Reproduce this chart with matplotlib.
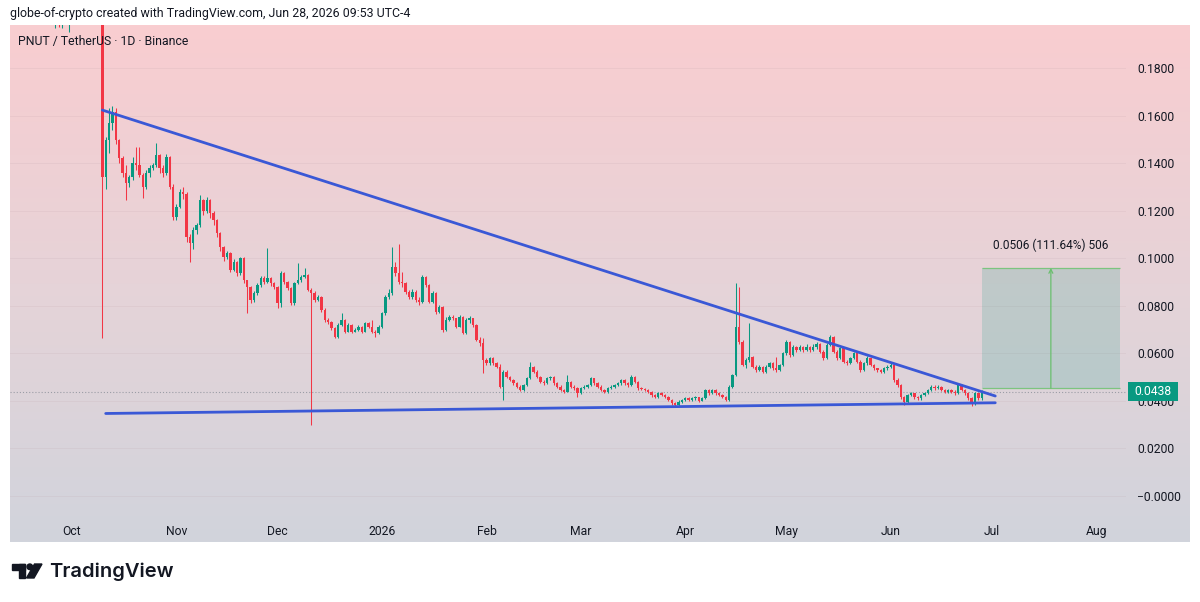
import numpy as np
import matplotlib
matplotlib.use("Agg")
import matplotlib.pyplot as plt
import matplotlib.dates as mdates
from matplotlib.patches import Rectangle, Circle, Polygon
from matplotlib.colors import LinearSegmentedColormap

plt.rcParams['font.family'] = ['Roboto', 'DejaVu Sans']

# ---------------- data (daily OHLC, prices in units of 0.0001 USDT) ----------------
first_date = '2025-09-13'
first_open = 2150
closes = [
    # Sep 13 - Sep 22
    2180, 2210, 2150, 2120, 2160, 2230, 2200, 2140, 2090, 2060,
    # Sep 23 - Oct 2
    2110, 2080, 2040, 2090, 2030, 2050, 2010, 2070, 2040, 2100,
    # Oct 3 - Oct 9
    2150, 2180, 2120, 2160, 2200, 2130, 2080,
    # Oct 10
    1343,
    1497, 1567, 1616, 1497, 1420, 1357, 1315, 1340, 1400, 1390,
    1350, 1301, 1357, 1378, 1392, 1434, 1378, 1360, 1427, 1301,
    1174, 1217, 1280, 1270, 1090, 1063, 1119, 1140, 1245, 1200,
    1245, 1190, 1161, 1105, 1048, 1006, 1020, 950, 985, 936,
    1000, 908, 880, 824, 852, 887, 915, 900, 915, 894,
    880, 810, 936, 900, 875, 810, 896, 908, 921, 930, 866, 854,
    824, 838, 782, 740, 730, 705, 670, 719, 740, 691,
    719, 691, 698, 712, 691, 726, 712, 691, 684, 712, 768, 838, 852,
    964, 936, 901, 894, 859, 838, 859, 824, 817, 922, 887, 817, 852, 775, 796,
    698, 740, 754, 747, 712, 754, 684, 740, 747, 719, 656, 642, 572, 558, 579, 558, 544,
    460, 523, 502, 488, 474, 460, 446, 467, 495, 544, 523, 502, 481, 474, 495, 500, 474, 460, 446, 439,
    481, 460, 453, 432, 453, 460, 467, 495, 474, 460, 446, 439, 453, 460, 467, 474, 488, 474, 467, 502,
    481, 453, 450, 446, 439, 425, 418, 432, 425, 418, 404, 390, 383, 397, 404, 411, 404, 411, 415, 401, 411,
    446, 432, 446, 432, 425, 418, 404, 460, 509, 712,
    649, 551, 572, 586, 544, 530, 544, 523, 544, 558, 540, 530, 551, 600, 649, 593, 628, 614, 628, 614, 628, 614, 628, 640,
    607, 579, 635, 670, 607, 579, 621, 565, 560, 579, 600, 565, 530, 558, 579, 551, 537, 530, 523, 537, 544, 551, 488, 467, 418,
    397, 425, 432, 418, 411, 425, 432, 446, 460, 453, 460, 446, 439, 446, 439, 432, 467, 446, 432, 411, 390, 432, 411, 438,
]
highs = [
    2230, 2260, 2230, 2180, 2200, 2270, 2260, 2220, 2160, 2120,
    2150, 2140, 2100, 2120, 2110, 2080, 2070, 2090, 2090, 2130,
    2190, 2220, 2200, 2190, 2240, 2210, 2150,
    2110,
    1510, 1630, 1640, 1630, 1500, 1430, 1390, 1350, 1427, 1469,
    1469, 1360, 1370, 1390, 1400, 1483, 1440, 1390, 1440, 1430,
    1310, 1230, 1290, 1300, 1280, 1100, 1130, 1150, 1266, 1250,
    1259, 1250, 1200, 1165, 1110, 1050, 1030, 1025, 995, 990,
    1006, 1005, 910, 885, 860, 895, 925, 925, 1042, 920,
    900, 885, 945, 940, 905, 880, 900, 980, 930, 959, 935, 875,
    860, 845, 840, 790, 750, 735, 712, 726, 768, 745,
    726, 722, 705, 719, 716, 733, 730, 740, 698, 719, 775, 845, 870,
    1048, 985, 1060, 940, 900, 865, 870, 865, 835, 930, 925, 890, 860, 858, 805,
    800, 754, 760, 760, 750, 760, 756, 747, 755, 750, 725, 670, 664, 580, 586, 584, 562,
    556, 530, 528, 505, 492, 478, 465, 472, 500, 565, 548, 528, 505, 486, 500, 506, 503, 478, 465, 450,
    509, 485, 465, 457, 458, 465, 472, 500, 498, 478, 465, 450, 458, 465, 472, 480, 494, 492, 478, 507,
    505, 485, 460, 455, 450, 443, 430, 437, 436, 430, 422, 408, 395, 402, 408, 416, 415, 416, 420, 418, 416,
    452, 450, 452, 450, 436, 430, 422, 466, 515, 896,
    880, 655, 580, 726, 590, 550, 550, 548, 550, 565, 562, 586, 556, 607, 655, 652, 635, 632, 635, 630, 638, 632, 638, 649,
    645, 612, 642, 675, 672, 612, 628, 625, 572, 585, 606, 605, 570, 565, 590, 582, 555, 540, 535, 542, 550, 565, 555, 495, 470,
    422, 430, 438, 435, 422, 430, 438, 450, 467, 465, 466, 462, 452, 450, 450, 445, 474, 470, 450, 436, 415, 438, 435, 445,
]
lows = [
    2120, 2150, 2100, 2060, 2090, 2140, 2150, 2090, 2030, 2000,
    2030, 2040, 2010, 1968, 1972, 1966, 2000, 1950, 1995, 2020,
    2080, 2120, 2090, 2100, 2140, 2100, 2010,
    664,
    1290, 1441, 1540, 1480, 1400, 1340, 1245, 1300, 1330, 1370,
    1340, 1252, 1290, 1340, 1370, 1385, 1360, 1340, 1350, 1290,
    1160, 1160, 1210, 1250, 1069, 985, 1040, 1100, 1130, 1180,
    1190, 1170, 1140, 1090, 1030, 990, 995, 940, 945, 925,
    930, 895, 768, 810, 815, 845, 880, 890, 895, 885,
    870, 790, 795, 890, 865, 803, 805, 890, 900, 915, 860, 299,
    815, 818, 775, 730, 722, 698, 664, 665, 715, 684,
    688, 684, 688, 694, 686, 688, 705, 684, 668, 680, 705, 760, 830,
    845, 925, 890, 880, 850, 830, 830, 815, 805, 810, 880, 810, 810, 765, 770,
    691, 695, 735, 740, 705, 710, 680, 680, 726, 712, 650, 630, 516, 550, 552, 552, 538,
    455, 404, 495, 482, 468, 455, 440, 442, 462, 490, 516, 495, 475, 468, 470, 488, 468, 455, 440, 433,
    436, 455, 447, 418, 428, 448, 455, 462, 468, 455, 440, 433, 435, 448, 455, 462, 468, 468, 460, 462,
    475, 447, 444, 440, 433, 418, 412, 414, 419, 412, 398, 384, 376, 380, 392, 400, 398, 400, 405, 396, 398,
    406, 426, 428, 426, 419, 412, 398, 400, 455, 505,
    640, 545, 540, 565, 538, 523, 525, 516, 518, 540, 530, 523, 525, 545, 595, 586, 588, 607, 610, 607, 610, 605, 610, 620,
    600, 572, 575, 630, 600, 572, 575, 558, 552, 555, 575, 558, 523, 525, 552, 545, 530, 523, 516, 518, 530, 540, 480, 460, 410,
    383, 390, 420, 410, 405, 405, 420, 428, 440, 446, 448, 440, 432, 432, 432, 425, 428, 440, 425, 405, 378, 383, 405, 405,
]
assert len(closes) == len(highs) == len(lows)

price_unit = 1e-4
price_ticks = [0.0, 0.02, 0.04, 0.06, 0.08, 0.10, 0.12, 0.14, 0.16, 0.18]
month_ticks = ['2025-10-01', '2025-11-01', '2025-12-01', '2026-01-01', '2026-02-01', '2026-03-01',
               '2026-04-01', '2026-05-01', '2026-06-01', '2026-07-01', '2026-08-01']
month_labels = ['Oct', 'Nov', 'Dec', '2026', 'Feb', 'Mar', 'Apr', 'May', 'Jun', 'Jul', 'Aug']

# drawings (date, price)
upper_trend = (('2025-10-10', 0.1623), ('2026-07-02', 0.04205))
lower_trend = (('2025-10-11', 0.0347), ('2026-07-02', 0.0392))
measure_start, measure_end = '2026-06-28', '2026-08-08'
measure_low, measure_high = 0.0453, 0.0959
measure_text = '0.0506 (111.64%) 506'

header_text = 'globe-of-crypto created with TradingView.com, Jun 28, 2026 09:53 UTC-4'
title_text = 'PNUT / TetherUS \u00b7 1D \u00b7 Binance'

# ---------------- derived ----------------
dates = np.datetime64(first_date) + np.arange(len(closes))
x = mdates.date2num(dates)
c = np.array(closes) * price_unit
h = np.array(highs) * price_unit
l = np.array(lows) * price_unit
o = np.concatenate([[first_open * price_unit], c[:-1]])
up = c >= o
UP, DN = '#089981', '#f23645'
cols = np.where(up, UP, DN)
last_close = c[-1]

def d2n(s):
    return mdates.date2num(np.datetime64(s))

# ---------------- figure ----------------
W, H = 1200, 602
fig = plt.figure(figsize=(W / 100, H / 100), dpi=100, facecolor='white')

def fxy(px, py):
    return px / W, 1 - py / H

# gradient panel background
bg = fig.add_axes([10 / W, (H - 542) / H, 1180 / W, 517 / H], zorder=0)
cmap = LinearSegmentedColormap.from_list('tvbg', ['#f9cdd0', '#e6d3d8', '#d1d4dc'])
bg.imshow(np.linspace(0, 1, 256).reshape(-1, 1), aspect='auto', cmap=cmap,
          extent=[0, 1, 0, 1], origin='upper')
bg.set_axis_off()

ax = fig.add_axes([10 / W, (H - 514) / H, 1116 / W, 489 / H], zorder=1)
ax.patch.set_alpha(0)
oct1 = d2n('2025-10-01')
ax.set_xlim(oct1 - 18.4, oct1 + 312.8)
ax.set_ylim(-0.00757, 0.19807)
for s in ax.spines.values():
    s.set_visible(False)

# grid
for v in price_ticks:
    ax.axhline(v, color='#b89aa3', lw=0.6, alpha=0.16, zorder=0)

# candles
ax.vlines(x, l, h, colors=cols, lw=0.75, zorder=2)
ax.bar(x, np.maximum(np.abs(c - o), 0.0003), bottom=np.minimum(o, c), width=0.7,
       color=cols, linewidth=0, zorder=3)

# last price line
ax.axhline(last_close, color='#9a9da6', lw=0.8, ls=(0, (1, 1.8)), zorder=1)

# trend lines
for (d0, p0), (d1, p1) in (upper_trend, lower_trend):
    ax.plot([d2n(d0), d2n(d1)], [p0, p1], color='#3a58d6', lw=2.0, solid_capstyle='round', zorder=4)

# measure tool
mx0, mx1 = d2n(measure_start), d2n(measure_end)
ax.add_patch(Rectangle((mx0, measure_low), mx1 - mx0, measure_high - measure_low,
                       facecolor='#089981', alpha=0.17, edgecolor='none', zorder=1))
ax.hlines([measure_low, measure_high], mx0, mx1, color='#7cc47f', lw=0.9, zorder=2)
xc = (mx0 + mx1) / 2
ax.annotate('', xy=(xc, measure_high), xytext=(xc, measure_low),
            arrowprops=dict(arrowstyle='->', color='#6abf6e', lw=0.9, shrinkA=0, shrinkB=0,
                            mutation_scale=7), zorder=2)
ax.text(xc, 0.1055, measure_text, ha='center', va='center', fontsize=8.6, color='#131722')

# axes ticks
ax.yaxis.tick_right()
ax.set_yticks(price_ticks)
ax.set_yticklabels(['\u22120.0000' if v == 0 else f'{v:.4f}' for v in price_ticks])
ax.set_xticks([d2n(m) for m in month_ticks])
ax.set_xticklabels(month_labels)
ax.tick_params(axis='y', length=0, pad=8, labelsize=8.7, labelcolor='#131722')
ax.tick_params(axis='x', length=0, pad=8, labelsize=8.7, labelcolor='#131722')

# price tag (covers the upper part of the 0.0400 label, as in the original)
ypix = ax.transData.transform((oct1, last_close))[1]
tag_y = ypix / H
tag = Rectangle((1128 / W, tag_y - 9.5 / H), 50 / W, 19 / H, transform=fig.transFigure,
                facecolor='#089981', edgecolor='none', zorder=10)
fig.add_artist(tag)
fig.text(1153 / W, tag_y, f'{last_close:.4f}', ha='center', va='center', color='white',
         fontsize=8.7, zorder=11)

# header and title
fig.text(*fxy(10, 13), header_text, fontsize=8.9, va='center', ha='left', color='#131722')
fig.text(*fxy(18, 42), title_text, fontsize=8.8, va='center', ha='left', color='#131722')

# TradingView logo
logo = fig.add_axes([0, 0, 1, 1], zorder=5)
logo.set_xlim(0, W)
logo.set_ylim(H, 0)
logo.set_axis_off()
logo.patch.set_alpha(0)
k = '#131722'
logo.add_patch(Rectangle((12, 564), 13, 5.5, color=k))
logo.add_patch(Rectangle((18.5, 564), 6.5, 14, color=k))
logo.add_patch(Circle((29.8, 566.8), 2.8, color=k))
logo.add_patch(Polygon([(34.5, 564), (42, 564), (34, 578), (26.5, 578)], closed=True, color=k))
logo.text(49, 571.5, 'TradingView', fontsize=14.5, fontweight='semibold', va='center', ha='left',
          color=k, family=['Inter', 'DejaVu Sans'])

fig.savefig('out.png', dpi=100, facecolor='white')
